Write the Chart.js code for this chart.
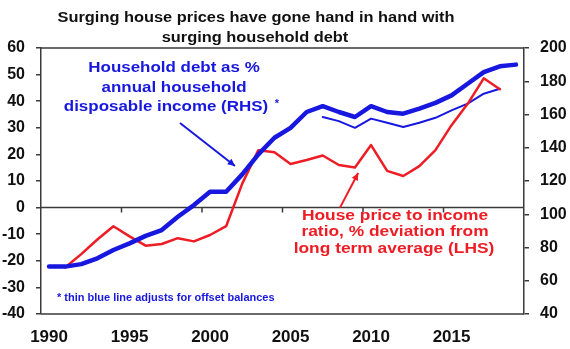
<!DOCTYPE html>
<html>
<head>
<meta charset="utf-8">
<script src="https://cdn.jsdelivr.net/npm/chart.js@4.4.0/dist/chart.umd.min.js"></script>
<style>
  html, body { margin: 0; padding: 0; background: #fff; }
  #wrap { position: relative; width: 570px; height: 349px; }
</style>
</head>
<body>
<div id="wrap"><canvas id="chart"></canvas></div>
<script>
// Years on the x axis (one point per year)
const years = [1990, 1991, 1992, 1993, 1994, 1995, 1996, 1997, 1998, 1999,
               2000, 2001, 2002, 2003, 2004, 2005, 2006, 2007, 2008, 2009,
               2010, 2011, 2012, 2013, 2014, 2015, 2016, 2017, 2018, 2019];
const xTickLabels = [1990, 1995, 2000, 2005, 2010, 2015];

// Household debt as % of annual disposable income (RHS)
const debtToIncome = [68.5, 68.5, 70, 73.5, 78.5, 82.5, 87, 90.5, 98.5, 105.5,
                      113.5, 113.5, 124, 136, 146, 152, 161.5, 165, 161.5, 158.5,
                      165, 161.5, 160.5, 163.5, 167, 171.5, 178.5, 185.5, 189, 190];
// Same, adjusted for offset balances (thin line, RHS)
const debtAdjusted = [null, null, null, null, null, null, null, null, null, null,
                      null, null, null, null, null, null, null, 158.5, 156, 152,
                      157.5, 155, 152.5, 155, 158, 162.5, 166.5, 172.5, 175.5, null];
// House price to income ratio, % deviation from long term average (LHS)
const housePriceDev = [null, -22.5, -17.5, -12, -7, -10.8, -14.3, -13.7, -11.5, -12.7,
                       -10.3, -7, 9, 21.6, 20.8, 16.4, 17.9, 19.6, 16, 15.1,
                       23.5, 13.8, 11.9, 15.6, 21.6, 31, 39, 48.6, 44.5, null];

const BLUE = '#1717e0';
const RED = '#ee1c24';
const AXIS = '#3a3a3a';
const FONT = 'Liberation Sans, Arial, sans-serif';

function stretchText(ctx, text, cx, cy, size, color, sx) {
    ctx.save();
    ctx.font = 'bold ' + size + 'px ' + FONT;
    ctx.fillStyle = color;
    ctx.textAlign = 'center';
    ctx.textBaseline = 'middle';
    ctx.translate(cx, cy);
    ctx.scale(sx, 1);
    ctx.fillText(text, 0, 0);
    ctx.restore();
}

function drawArrow(ctx, x1, y1, x2, y2, color) {
    ctx.save();
    ctx.strokeStyle = color;
    ctx.fillStyle = color;
    ctx.lineWidth = 2;
    ctx.beginPath();
    ctx.moveTo(x1, y1);
    ctx.lineTo(x2, y2);
    ctx.stroke();
    const a = Math.atan2(y2 - y1, x2 - x1), len = 8;
    ctx.beginPath();
    ctx.moveTo(x2, y2);
    ctx.lineTo(x2 - len * Math.cos(a - 0.45), y2 - len * Math.sin(a - 0.45));
    ctx.lineTo(x2 - len * Math.cos(a + 0.45), y2 - len * Math.sin(a + 0.45));
    ctx.closePath();
    ctx.fill();
    ctx.restore();
}

// Frame, zero line and x tick marks (drawn under the lines)
const framePlugin = {
    id: 'frame',
    beforeDatasetsDraw(chart) {
        const { ctx, chartArea: a, scales } = chart;
        const y0 = scales.y.getPixelForValue(0);
        ctx.save();
        ctx.strokeStyle = AXIS;
        ctx.lineWidth = 1.5;
        ctx.beginPath();
        ctx.moveTo(a.left, a.top); ctx.lineTo(a.right, a.top);
        ctx.moveTo(a.left, a.bottom); ctx.lineTo(a.right, a.bottom);
        ctx.moveTo(a.left, y0); ctx.lineTo(a.right, y0);
        // tick marks between categories, every 5 years
        years.forEach((yr, i) => {
            if (yr % 5 === 4 && i < years.length - 1) {
                const x = (scales.x.getPixelForValue(i) + scales.x.getPixelForValue(i + 1)) / 2;
                ctx.moveTo(x, y0); ctx.lineTo(x, y0 + 5);
            }
        });
        ctx.stroke();
        ctx.restore();
    },
    afterDatasetsDraw(chart) {
        const { ctx, scales } = chart;
        // title
        stretchText(ctx, 'Surging house prices have gone hand in hand with', 256, 18, 14.5, '#111', 1.13);
        stretchText(ctx, 'surging household debt', 255, 38, 14.5, '#111', 1.13);

        // blue label
        stretchText(ctx, 'Household debt as %', 174, 68, 15, BLUE, 1.13);
        stretchText(ctx, 'annual household', 174, 88, 15, BLUE, 1.13);
        stretchText(ctx, 'disposable income (RHS)', 166, 107, 15, BLUE, 1.13);
        stretchText(ctx, '*', 277, 104, 11, BLUE, 1);

        // red label
        stretchText(ctx, 'House price to income', 395, 216, 15.5, RED, 1.12);
        stretchText(ctx, 'ratio, % deviation from', 395, 232, 15.5, RED, 1.12);
        stretchText(ctx, 'long term average (LHS)', 394, 249, 15.5, RED, 1.12);

        // footnote
        ctx.save();
        ctx.font = 'bold 11px ' + FONT;
        ctx.fillStyle = BLUE;
        ctx.textBaseline = 'middle';
        ctx.fillText('* thin blue line adjusts for offset balances', 57, 298);
        ctx.restore();

        // arrows
        const x = scales.x, y1 = scales.y1, y = scales.y;
        drawArrow(ctx, 180, 123, x.getPixelForValue(11.55), y1.getPixelForValue(129), BLUE);
        drawArrow(ctx, 340, y.getPixelForValue(0), x.getPixelForValue(19.2), y.getPixelForValue(13), RED);
    }
};

new Chart(document.getElementById('chart'), {
    type: 'line',
    data: {
        labels: years,
        datasets: [
            {
                label: 'Adjusted for offset balances',
                data: debtAdjusted,
                yAxisID: 'y1',
                borderColor: BLUE,
                borderWidth: 2,
                order: 3
            },
            {
                label: 'House price to income ratio',
                data: housePriceDev,
                yAxisID: 'y',
                borderColor: RED,
                borderWidth: 2.5,
                order: 2
            },
            {
                label: 'Household debt to income',
                data: debtToIncome,
                yAxisID: 'y1',
                borderColor: BLUE,
                borderWidth: 4.5,
                order: 1
            }
        ]
    },
    options: {
        responsive: true,
        maintainAspectRatio: false,
        animation: false,
        devicePixelRatio: 1,
        layout: { padding: { top: 48, left: 0, right: 0, bottom: 0 } },
        elements: {
            point: { radius: 0 },
            line: { tension: 0, borderJoinStyle: 'round', borderCapStyle: 'round' }
        },
        plugins: {
            legend: { display: false },
            tooltip: { enabled: false }
        },
        scales: {
            x: {
                type: 'category',
                offset: true,
                grid: { display: false, drawTicks: false },
                border: { display: false },
                afterFit: s => { s.height = 35; },
                ticks: {
                    autoSkip: false,
                    maxRotation: 0,
                    padding: 13,
                    color: '#111',
                    font: { family: FONT, size: 17, weight: 'bold' },
                    callback: (v, i) => xTickLabels.includes(years[i]) ? String(years[i]) : ''
                }
            },
            y: {
                position: 'left',
                min: -40,
                max: 60,
                afterFit: s => { s.width = 41; },
                grid: { drawOnChartArea: false, drawTicks: true, tickLength: 5, color: AXIS, lineWidth: 1.5 },
                border: { display: true, color: AXIS, width: 1.5 },
                ticks: {
                    stepSize: 10,
                    padding: 11,
                    color: '#111',
                    font: { family: FONT, size: 16, weight: 'bold' }
                }
            },
            y1: {
                position: 'right',
                min: 40,
                max: 200,
                afterFit: s => { s.width = 46; },
                grid: { drawOnChartArea: false, drawTicks: true, tickLength: 5, color: AXIS, lineWidth: 1.5 },
                border: { display: true, color: AXIS, width: 1.5 },
                ticks: {
                    stepSize: 20,
                    padding: 11,
                    color: '#111',
                    font: { family: FONT, size: 16, weight: 'bold' }
                }
            }
        }
    },
    plugins: [framePlugin]
});
</script>
</body>
</html>
